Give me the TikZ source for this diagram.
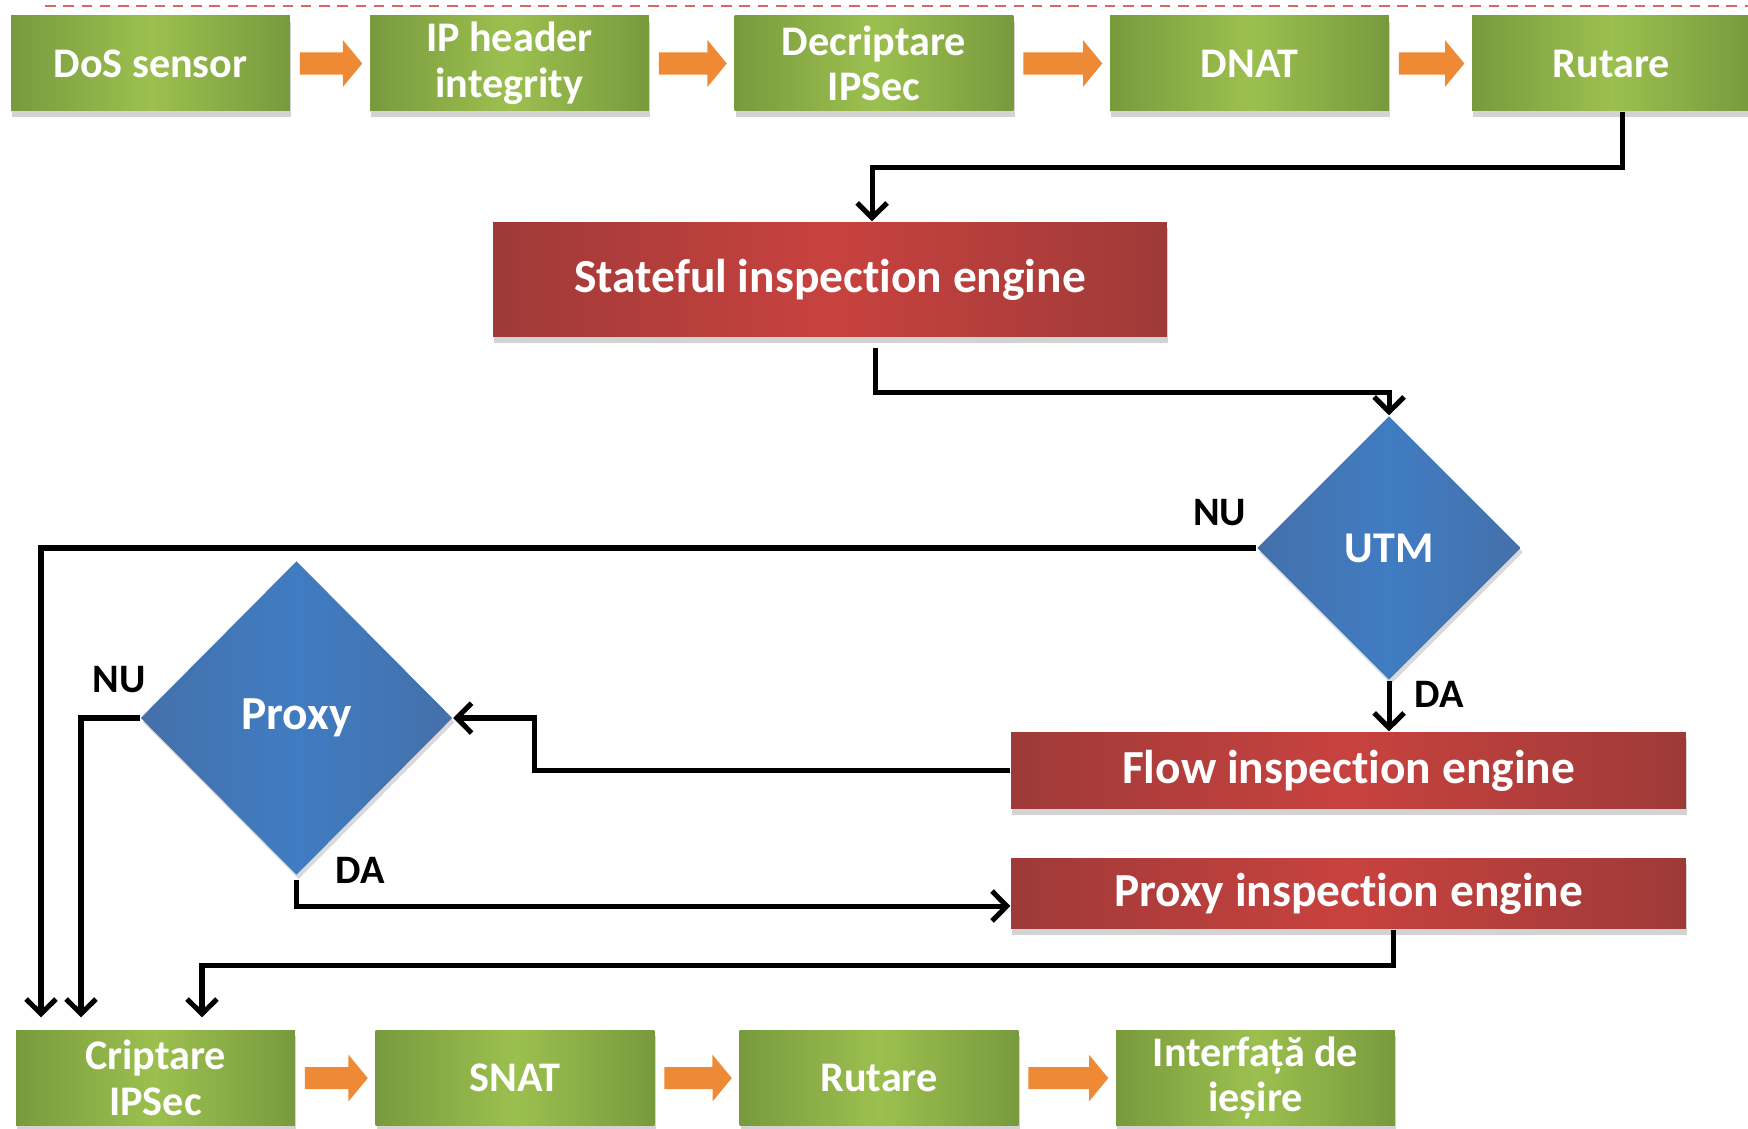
\documentclass[tikz,border=0pt]{standalone}
\usepackage{fontspec}
\setmainfont{Carlito}[Ligatures=NoCommon]
\usetikzlibrary{shapes.geometric,arrows.meta,shadows,calc}

\definecolor{grnDark}{HTML}{789A3E}
\definecolor{grnLight}{HTML}{9CC04F}
\definecolor{redDark}{HTML}{9E3A38}
\definecolor{redLight}{HTML}{C8423F}
\definecolor{bluDark}{HTML}{4470AA}
\definecolor{bluLight}{HTML}{407CC2}
\definecolor{orngArrow}{HTML}{EE8A36}
\definecolor{dashRed}{HTML}{D9666A}

\begin{document}
\begin{tikzpicture}[scale=0.1,
  every node/.style={inner sep=0pt, align=center},
  greenbox/.style={rectangle, minimum width=2.79cm, minimum height=0.95cm,
    left color=grnDark, right color=grnDark, middle color=grnLight,
    drop shadow={opacity=0.35, shadow xshift=0.4pt, shadow yshift=-1.6pt},
    text=white, font=\bfseries\fontsize{12}{13}\selectfont},
  redbox/.style={rectangle, minimum width=6.75cm,
    left color=redDark, right color=redDark, middle color=redLight,
    drop shadow={opacity=0.35, shadow xshift=0.4pt, shadow yshift=-1.6pt},
    text=white, font=\bfseries\fontsize{13.5}{15}\selectfont},
  decision/.style={diamond, aspect=1,
    left color=bluDark, right color=bluDark, middle color=bluLight,
    drop shadow={opacity=0.3, shadow xshift=0.6pt, shadow yshift=-1.2pt},
    text=white, font=\bfseries\fontsize{12.5}{14}\selectfont},
  lbl/.style={text=black, font=\bfseries\fontsize{11.5}{13}\selectfont},
  flowarrow/.style={draw=orngArrow, line width=6.3pt,
    -{Triangle[length=5.5pt,width=13pt]}, shorten <=2.6pt, shorten >=2pt},
  link/.style={draw=black, line width=1.45pt,
    -{Straight Barb[length=4.2pt,width=8.5pt]}}]
\useasboundingbox (0,0) rectangle (174.8,-112.9);
\draw [dashRed, line width=0.7pt, dash pattern=on 3pt off 2.2pt] (4.5,-0.6) -- (174.8,-0.6);
% incoming chain
\node [greenbox] (dos) at (15.05,-6.35) {DoS sensor};
\node [greenbox] (iph) at (50.95,-6.35) {IP header\\integrity};
\node [greenbox] (dec) at (87.4,-6.35) {Decriptare\\IPSec};
\node [greenbox] (dnat) at (124.95,-6.35) {DNAT};
\node [greenbox] (rutin) at (161.15,-6.35) {Rutare};
\draw [flowarrow] (dos) -- (iph);
\draw [flowarrow] (iph) -- (dec);
\draw [flowarrow] (dec) -- (dnat);
\draw [flowarrow] (dnat) -- (rutin);
% engines and decisions
\node [redbox, minimum width=6.74cm, minimum height=1.15cm] (sie) at (83.0,-27.95) {Stateful inspection engine};
\node [decision, minimum width=2.64cm, minimum height=2.64cm] (utm) at (138.9,-54.8) {UTM};
\node [redbox, minimum height=0.77cm] (fie) at (134.85,-77.05) {Flow inspection engine};
\node [decision, minimum width=3.12cm, minimum height=3.14cm,
  font=\bfseries\fontsize{13.5}{15}\selectfont] (proxy) at (29.65,-71.8) {Proxy};
\node [redbox, minimum height=0.71cm] (pie) at (134.85,-89.35) {Proxy inspection engine};
% outgoing chain
\node [greenbox, minimum height=0.96cm] (cript) at (15.55,-107.8) {Criptare\\IPSec};
\node [greenbox, minimum height=0.96cm] (snat) at (51.5,-107.8) {SNAT};
\node [greenbox, minimum height=0.96cm] (rutout) at (87.9,-107.8) {Rutare};
\node [greenbox, minimum height=0.96cm] (iface) at (125.55,-107.8) {Interfață de\\ieșire};
\draw [flowarrow] (cript) -- (snat);
\draw [flowarrow] (snat) -- (rutout);
\draw [flowarrow] (rutout) -- (iface);
% connectors
\draw [link] ($(rutin.south)+(1.1,0)$) -- ++(0,-5.6) -| ($(sie.north)+(4.2,0)$);
\draw [link] ($(sie.south)+(4.5,-1)$) -- ++(0,-4.5) -| (utm.north);
\draw [link] (utm.west) -| ($(cript.north)+(-11.45,1.2)$);
\draw [link] (utm.south) -- (utm.south |- fie.north);
\draw [link] (fie.west) -| ($(proxy.east)+(8.1,0)$) -- (proxy.east);
\draw [link] (proxy.west) -| ($(cript.north)+(-7.45,1.2)$);
\draw [link] ($(proxy.south)+(0,-0.4)$) |- ($(pie.west)+(0,-1.25)$);
\draw [link] ($(pie.south)+(4.45,0)$) -- ++(0,-3.6) -| ($(cript.north)+(4.65,1.2)$);
\node [lbl] (utmno) at (121.96,-51.28) {NU};
\node [lbl] (utmyes) at (143.92,-69.45) {DA};
\node [lbl] (proxyno) at (11.93,-68.0) {NU};
\node [lbl] (proxyyes) at (36.01,-87.07) {DA};
\end{tikzpicture}
\end{document}
